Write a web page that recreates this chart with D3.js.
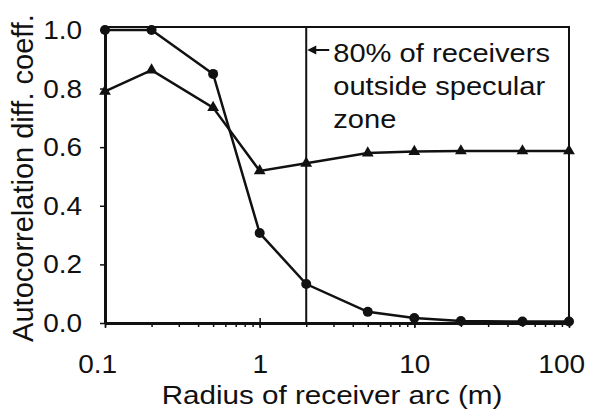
<!DOCTYPE html>
<html><head><meta charset="utf-8">
<script src="https://cdn.jsdelivr.net/npm/d3@7"></script>
<style>
body{margin:0;background:#fff}
text{font-family:Arial,"Liberation Sans",Helvetica,sans-serif;fill:#111}
</style>
</head><body>
<svg id="chart" width="590" height="409"></svg>
<script>
// ---- data ----
const radius = [0.1, 0.2, 0.5, 1, 2, 5, 10, 20, 50, 100];
const circleValues = [1.0, 1.0, 0.85, 0.307, 0.133, 0.038, 0.017, 0.007, 0.005, 0.005];
const triangleValues = [0.79, 0.863, 0.735, 0.519, 0.545, 0.58, 0.585, 0.587, 0.587, 0.587];
const specularRadius = 2;
const xTickValues = [0.1, 1, 10, 100];
const xTickLabels = ["0.1", "1", "10", "100"];
const yTickValues = [0, 0.2, 0.4, 0.6, 0.8, 1.0];
const yTickLabels = ["0.0", "0.2", "0.4", "0.6", "0.8", "1.0"];
const annotationLines = ["80% of receivers", "outside specular", "zone"];
const xTitle = "Radius of receiver arc (m)";
const yTitle = "Autocorrelation diff. coeff.";

// ---- layout ----
const L = 105, R = 569, T = 27, B = 323;
const stretch = 1.12;
const ink = "#111";

const svg = d3.select("#chart");
const x = d3.scaleLog().domain([0.1, 100]).range([L, R]);
const y = d3.scaleLinear().domain([0, 1.01]).range([B, T]);

// frame (top and right)
svg.append("path")
  .attr("d", `M${L},${T}H${R}V${B}`)
  .attr("fill", "none").attr("stroke", ink).attr("stroke-width", 2);

// vertical specular line
svg.append("line")
  .attr("x1", x(specularRadius)).attr("x2", x(specularRadius))
  .attr("y1", T).attr("y2", B)
  .attr("stroke", ink).attr("stroke-width", 2);

// minor x ticks
svg.append("g").attr("transform", `translate(0,${B})`)
  .call(d3.axisBottom(x).tickValues(x.ticks()).tickFormat("").tickSize(4).tickSizeOuter(0))
  .call(g => g.select(".domain").remove())
  .call(g => g.selectAll("line").attr("stroke", ink).attr("stroke-width", 1.5).attr("y1", -1));

// major x ticks + labels
const xAxis = svg.append("g").attr("transform", `translate(0,${B})`)
  .call(d3.axisBottom(x).tickValues(xTickValues)
    .tickFormat((d, i) => xTickLabels[i]).tickSize(5).tickSizeOuter(0));
xAxis.select(".domain").attr("stroke", ink).attr("stroke-width", 3);
xAxis.selectAll(".tick line").attr("stroke", ink).attr("stroke-width", 1.5).attr("y1", -5);
const lastTick = xTickValues.length - 1;
xAxis.selectAll(".tick text")
  .attr("y", 50).attr("dy", 0)
  .attr("dx", (d, i) => i === 0 ? -7 : (i === lastTick ? -7 : 0))
  .attr("transform", `scale(${stretch},1)`)
  .style("font-size", "25px").attr("fill", ink);

// y axis
const yAxis = svg.append("g").attr("transform", `translate(${L},0)`)
  .call(d3.axisLeft(y).tickValues(yTickValues)
    .tickFormat((d, i) => yTickLabels[i]).tickSize(5).tickSizeOuter(0));
yAxis.select(".domain").attr("stroke", ink).attr("stroke-width", 3);
yAxis.selectAll(".tick line").attr("stroke", ink).attr("stroke-width", 1.5);
yAxis.selectAll(".tick text")
  .attr("x", -20.5).attr("dy", "0.34em")
  .attr("transform", `scale(${stretch},1)`)
  .style("font-size", "25px").attr("fill", ink);

// lines
const line = d3.line().x((d, i) => x(radius[i])).y(d => y(d));
svg.append("path").datum(circleValues).attr("d", line)
  .attr("fill", "none").attr("stroke", ink).attr("stroke-width", 2.5);
svg.append("path").datum(triangleValues).attr("d", line)
  .attr("fill", "none").attr("stroke", ink).attr("stroke-width", 2.5);

// markers
svg.append("g").selectAll("circle").data(circleValues).join("circle")
  .attr("cx", (d, i) => x(radius[i])).attr("cy", d => y(d))
  .attr("r", 5).attr("fill", ink);
const tri = d3.symbol().type(d3.symbolTriangle).size(60);
svg.append("g").selectAll("path").data(triangleValues).join("path")
  .attr("d", tri)
  .attr("transform", (d, i) => `translate(${x(radius[i])},${y(d)})`)
  .attr("fill", ink);

// annotation
const ax = x(specularRadius);
svg.append("line").attr("x1", ax + 23).attr("x2", ax + 6).attr("y1", 50).attr("y2", 50)
  .attr("stroke", ink).attr("stroke-width", 2);
svg.append("path").attr("d", `M${ax + 1},50L${ax + 10},45.5L${ax + 10},54.5Z`).attr("fill", ink);
const ann = svg.append("g").attr("transform", `translate(${ax + 27},0) scale(${stretch},1)`);
ann.selectAll("text").data(annotationLines).join("text")
  .attr("x", 0).attr("y", (d, i) => 62 + i * 33)
  .style("font-size", "26px").text(d => d);

// titles
svg.append("text")
  .attr("transform", `translate(332,404) scale(1.14,1)`)
  .attr("text-anchor", "middle").style("font-size", "26px").text(xTitle);
svg.append("text")
  .attr("transform", `translate(33,178) rotate(-90)`)
  .attr("text-anchor", "middle").style("font-size", "29px").text(yTitle);
</script>
</body></html>
